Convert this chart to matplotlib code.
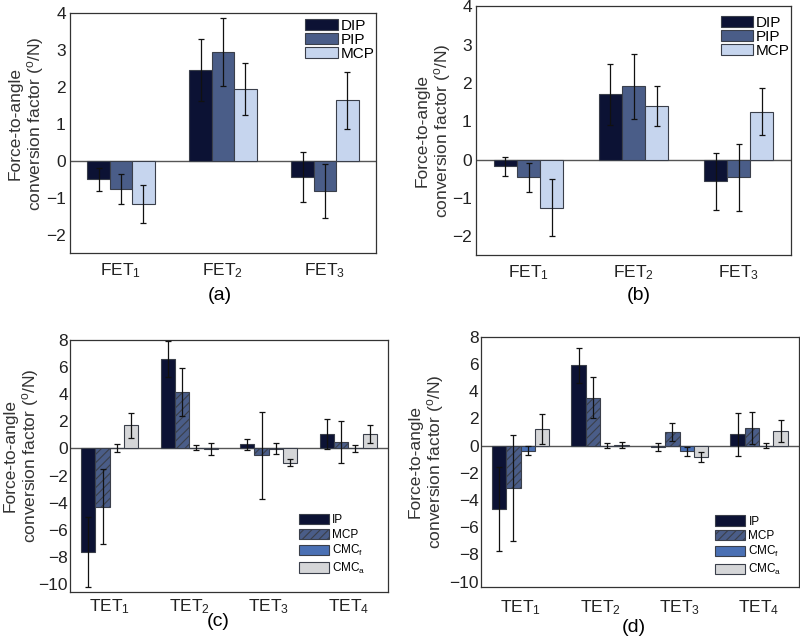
import numpy as np
import matplotlib
matplotlib.use('Agg')
import matplotlib.pyplot as plt

plt.rcParams['font.family'] = ['Liberation Sans', 'DejaVu Sans']
plt.rcParams['mathtext.fontset'] = 'custom'
plt.rcParams['mathtext.rm'] = 'Liberation Sans'
plt.rcParams['mathtext.it'] = 'Liberation Sans'
plt.rcParams['hatch.color'] = '#1a2240'
plt.rcParams['hatch.linewidth'] = 0.8

# ---- data ----
fet_labels = ['FET$_1$', 'FET$_2$', 'FET$_3$']
tet_labels = ['TET$_1$', 'TET$_2$', 'TET$_3$', 'TET$_4$']
finger_joints = ['DIP', 'PIP', 'MCP']
thumb_joints = ['IP', 'MCP', 'CMC$_\\mathrm{f}$', 'CMC$_\\mathrm{a}$']

a_dip = [-0.5, 2.46, -0.43]
a_dip_err = [0.3, 0.84, 0.67]
a_pip = [-0.75, 2.96, -0.82]
a_pip_err = [0.41, 0.92, 0.73]
a_mcp = [-1.17, 1.96, 1.65]
a_mcp_err = [0.52, 0.7, 0.77]

b_dip = [-0.18, 1.70, -0.57]
b_dip_err = [0.25, 0.8, 0.74]
b_pip = [-0.46, 1.91, -0.47]
b_pip_err = [0.38, 0.85, 0.88]
b_mcp = [-1.26, 1.40, 1.25]
b_mcp_err = [0.75, 0.53, 0.62]

c_ip = [-7.65, 6.6, 0.32, 1.08]
c_ip_err = [2.6, 1.33, 0.4, 1.1]
c_mcp = [-4.3, 4.19, -0.5, 0.47]
c_mcp_err = [2.78, 1.76, 3.2, 1.57]
c_cmcf = [0.05, 0.05, -0.03, 0.0]
c_cmcf_err = [0.3, 0.17, 0.4, 0.25]
c_cmca = [1.7, -0.05, -1.06, 1.08]
c_cmca_err = [0.9, 0.43, 0.27, 0.68]

d_ip = [-4.68, 5.9, -0.12, 0.83]
d_ip_err = [3.07, 1.27, 0.3, 1.6]
d_mcp = [-3.09, 3.53, 1.0, 1.3]
d_mcp_err = [3.9, 1.52, 0.69, 1.2]
d_cmcf = [-0.37, 0.0, -0.4, 0.0]
d_cmcf_err = [0.35, 0.18, 0.33, 0.2]
d_cmca = [1.2, 0.06, -0.86, 1.05]
d_cmca_err = [1.1, 0.21, 0.38, 0.8]

finger_colors = ['#0c1234', '#4a5d88', '#c6d5ee']
thumb_colors = ['#0c1234', '#4a5d88', '#4a70b4', '#d5d6d8']
thumb_hatch = [None, '////', None, None]

ylab = 'Force-to-angle\nconversion factor ($^{\\mathrm{o}}$/N)'


def draw_panel(ax, cats, names, vals, errs, colors, hatches, width, ylim, yticks,
               xpad, ypad, ylab_xy, small, leg_anchor):
    x = np.arange(len(cats))
    n = len(names)
    for i in range(n):
        pos = x + (i - (n - 1) / 2) * width
        ax.bar(pos, vals[i], width, color=colors[i], edgecolor='#3a3f4a', linewidth=0.8,
               hatch=hatches[i], label=names[i], zorder=2)
        ax.errorbar(pos, vals[i], yerr=errs[i], fmt='none', ecolor='#111111',
                    elinewidth=0.9, capsize=2, capthick=0.9, zorder=3)
    ax.axhline(0, color='#555555', linewidth=1.0, zorder=1)
    ax.set_xlim(-0.5, len(cats) - 0.5)
    ax.set_ylim(*ylim)
    ax.set_yticks(yticks)
    ax.set_yticklabels([str(t).replace('-', '\u2212') for t in yticks])
    ax.set_xticks(x)
    ax.set_xticklabels(cats)
    ax.tick_params(length=0, labelsize=12.5, colors='#222222')
    ax.tick_params(axis='x', pad=xpad)
    ax.tick_params(axis='y', pad=ypad)
    ax.set_ylabel(ylab, fontsize=12.5, color='#333333', linespacing=1.15, va='center')
    ax.yaxis.set_label_coords(*ylab_xy)
    for s in ax.spines.values():
        s.set_color('#333333')
        s.set_linewidth(0.9)
    if small:
        ax.legend(loc='lower right', bbox_to_anchor=leg_anchor, frameon=False,
                  fontsize=8.5, handlelength=2.6, handleheight=0.95, labelspacing=0.2,
                  handletextpad=0.25, borderaxespad=0, borderpad=0)
    else:
        ax.legend(loc='upper right', bbox_to_anchor=leg_anchor, frameon=False,
                  fontsize=11, handlelength=2.1, handleheight=0.75, labelspacing=0.0,
                  handletextpad=0.2, borderaxespad=0, borderpad=0)


fig = plt.figure(figsize=(8, 6.38), dpi=100)
ax_a = fig.add_axes([0.0875, 0.603, 0.3825, 0.376])
ax_b = fig.add_axes([0.595, 0.600, 0.394, 0.390])
ax_c = fig.add_axes([0.0875, 0.072, 0.3975, 0.395])
ax_d = fig.add_axes([0.601, 0.080, 0.3975, 0.392])

draw_panel(ax_a, fet_labels, finger_joints, [a_dip, a_pip, a_mcp],
           [a_dip_err, a_pip_err, a_mcp_err], finger_colors, [None] * 3, 0.22,
           (-2.5, 4), [-2, -1, 0, 1, 2, 3, 4], 6, 3, (-0.14, 0.54), False, (0.995, 0.978))
draw_panel(ax_b, fet_labels, finger_joints, [b_dip, b_pip, b_mcp],
           [b_dip_err, b_pip_err, b_mcp_err], finger_colors, [None] * 3, 0.22,
           (-2.5, 4), [-2, -1, 0, 1, 2, 3, 4], 6, 3, (-0.133, 0.5), False, (0.995, 0.962))
draw_panel(ax_c, tet_labels, thumb_joints, [c_ip, c_mcp, c_cmcf, c_cmca],
           [c_ip_err, c_mcp_err, c_cmcf_err, c_cmca_err], thumb_colors, thumb_hatch, 0.18,
           (-10.6, 8), [-10, -8, -6, -4, -2, 0, 2, 4, 6, 8], 4, 1.5, (-0.151, 0.54), True,
           (0.93, 0.065))
draw_panel(ax_d, tet_labels, thumb_joints, [d_ip, d_mcp, d_cmcf, d_cmca],
           [d_ip_err, d_mcp_err, d_cmcf_err, d_cmca_err], thumb_colors, thumb_hatch, 0.18,
           (-10.4, 8), [-10, -8, -6, -4, -2, 0, 2, 4, 6, 8], 8, 1.5, (-0.17, 0.5), True,
           (0.947, 0.04))

fig.text(220 / 800, 1 - 296 / 638, '(a)', fontsize=14, ha='center', va='center')
fig.text(639 / 800, 1 - 295 / 638, '(b)', fontsize=14, ha='center', va='center')
fig.text(218 / 800, 1 - 622 / 638, '(c)', fontsize=14, ha='center', va='center')
fig.text(634 / 800, 1 - 628 / 638, '(d)', fontsize=14, ha='center', va='center')

fig.savefig('out.png', dpi=100)
